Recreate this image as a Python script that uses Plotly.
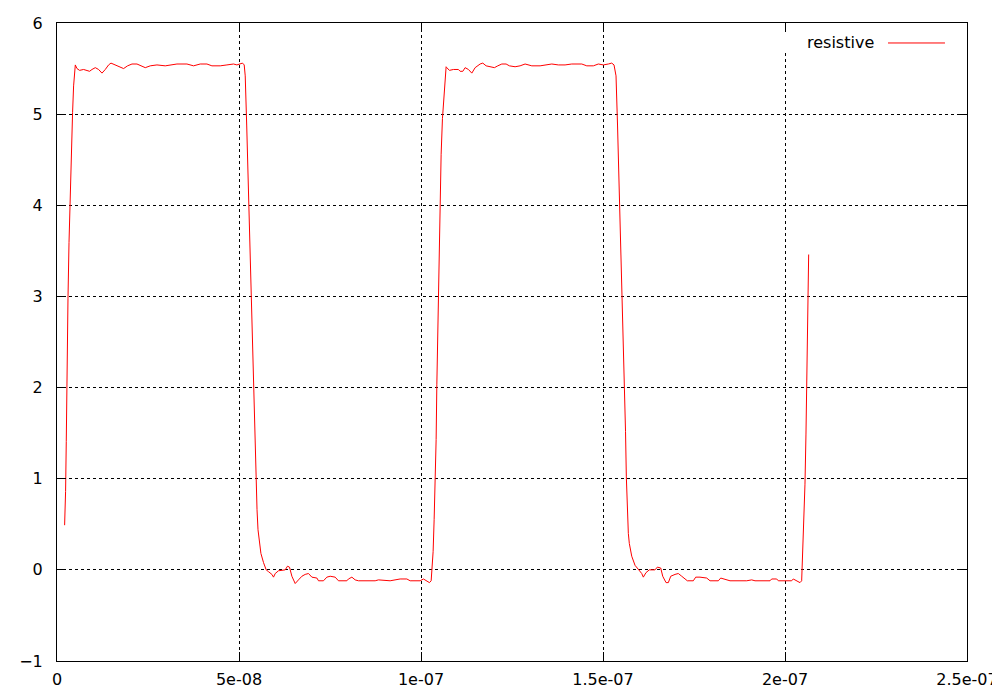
import plotly.graph_objects as go

# time in nanoseconds, voltage in volts
t_ns = [
    2.09, 2.36, 2.55, 2.75, 3.02, 3.30, 3.65, 3.93, 4.28, 4.56, 4.83,
    5.03, 5.49, 6.21, 7.30, 8.24, 8.95, 9.61, 10.52, 11.42, 12.36, 13.26, 14.17, 14.83,
    16.01, 17.38, 18.29, 19.39, 20.60, 21.97, 23.34, 24.25, 25.62, 27.46, 29.74, 31.58,
    32.95, 35.70, 37.51, 39.35, 41.19, 42.56, 44.84, 46.68, 48.50, 49.43, 50.34, 50.97, 51.43,
    51.71, 52.12, 52.39, 52.67, 52.94, 53.22, 53.44, 53.68, 54.04, 54.40, 54.67, 54.95,
    55.22, 55.63, 56.02, 56.73, 57.47, 58.11, 59.04, 59.48, 59.95, 60.85, 62.69, 63.32,
    63.87, 64.53, 65.44, 66.34, 67.28, 68.18, 69.09, 70.02, 71.40, 71.84, 73.21, 74.14,
    75.05, 76.42, 77.33, 79.63, 80.07, 81.01, 81.91, 82.82, 87.41, 88.31, 90.15, 91.52,
    94.27, 96.11, 97.02, 99.76, 100.67, 101.41, 102.32, 102.79,
    103.14, 103.33, 103.61, 103.88, 104.16, 104.35, 104.62, 104.90, 105.17, 105.53,
    105.89, 106.27, 106.63, 106.90,
    107.09, 107.81, 108.91, 110.28, 110.75, 111.49, 112.12, 113.03, 113.96, 114.87,
    116.24, 116.98, 117.89, 118.99, 120.17, 121.10, 122.20, 123.38, 124.29, 125.85,
    127.22, 128.60, 130.44, 132.72, 134.56, 135.93, 137.74, 139.58, 141.42, 144.17,
    145.54, 147.35, 148.72, 150.10, 151.47, 152.40, 153.03,
    153.58, 154.00, 154.27, 154.55, 154.82, 155.10, 155.32, 155.56, 155.92, 156.19,
    156.41, 156.68, 156.96, 157.23, 157.89, 158.80, 159.71, 160.64, 161.08, 161.82,
    162.73, 164.29, 164.93, 165.86, 166.41, 167.32, 167.95, 168.61, 169.79, 170.69,
    171.63, 173.17, 174.81, 175.47, 176.65, 178.50, 179.40, 181.68, 182.34, 183.52,
    184.89, 189.48, 190.85, 191.76, 195.88, 196.34, 197.72, 198.16, 201.83, 202.27,
    203.21, 204.11, 204.58,
    204.74, 205.02, 205.29, 205.49, 205.76, 205.95, 206.23, 206.50,
]
volts = [
    0.49, 0.86, 1.41, 2.29, 2.98, 3.59, 4.23, 4.69, 5.02, 5.31, 5.53,
    5.54, 5.50, 5.48, 5.49, 5.48, 5.47, 5.49, 5.51, 5.49, 5.45, 5.49, 5.54, 5.56,
    5.54, 5.52, 5.50, 5.53, 5.55, 5.55, 5.53, 5.51, 5.53, 5.54, 5.53, 5.54,
    5.55, 5.55, 5.53, 5.55, 5.55, 5.53, 5.53, 5.54, 5.55, 5.54, 5.55, 5.56, 5.54,
    5.42, 4.87, 4.46, 4.00, 3.71, 3.44, 3.10, 2.50, 1.90, 1.52, 1.02, 0.66,
    0.44, 0.29, 0.18, 0.08, 0.00, -0.02, -0.05, -0.08, -0.04, -0.01, 0.00, 0.04,
    0.03, -0.07, -0.15, -0.11, -0.07, -0.05, -0.04, -0.08, -0.09, -0.12, -0.12, -0.08,
    -0.07, -0.08, -0.12, -0.12, -0.10, -0.08, -0.11, -0.12, -0.12, -0.11, -0.12, -0.12,
    -0.10, -0.10, -0.12, -0.12, -0.10, -0.12, -0.14, -0.12,
    0.05, 0.20, 0.55, 0.93, 1.43, 2.03, 2.62, 3.44, 4.06, 4.56,
    4.95, 5.13, 5.38, 5.52,
    5.51, 5.48, 5.49, 5.49, 5.47, 5.47, 5.51, 5.49, 5.45, 5.51,
    5.55, 5.56, 5.53, 5.52, 5.51, 5.53, 5.55, 5.55, 5.53, 5.52,
    5.53, 5.55, 5.53, 5.53, 5.54, 5.55, 5.54, 5.54, 5.55, 5.55,
    5.53, 5.53, 5.55, 5.54, 5.55, 5.56, 5.54,
    5.42, 4.87, 4.46, 4.00, 3.71, 3.44, 3.10, 2.50, 1.90, 1.52,
    1.02, 0.60, 0.40, 0.29, 0.15, 0.05, 0.00, -0.04, -0.08, -0.03,
    0.00, 0.00, 0.03, 0.02, -0.07, -0.14, -0.14, -0.07, -0.05, -0.04,
    -0.07, -0.12, -0.12, -0.08, -0.08, -0.09, -0.12, -0.12, -0.09, -0.10,
    -0.12, -0.12, -0.11, -0.12, -0.12, -0.10, -0.10, -0.12, -0.12, -0.10,
    -0.12, -0.14, -0.12,
    0.07, 0.24, 0.54, 0.94, 1.49, 2.10, 3.00, 3.46,
]

x_tick_vals = [0, 5e-8, 1e-7, 1.5e-7, 2e-7, 2.5e-7]
x_tick_text = ["0", "5e-08", "1e-07", "1.5e-07", "2e-07", "2.5e-07"]
y_tick_vals = [-1, 0, 1, 2, 3, 4, 5, 6]
series_name = "resistive"

t_sec = [v * 1e-9 for v in t_ns]

FONT = "DejaVu Sans"

fig = go.Figure()
fig.add_trace(go.Scatter(
    x=t_sec, y=volts, mode="lines", name=series_name,
    line=dict(color="#ff0000", width=1),
    showlegend=False,
))

axis_common = dict(
    showline=True, linecolor="black", linewidth=1, mirror="allticks",
    ticks="inside", ticklen=9, tickcolor="black", tickwidth=1,
    showgrid=True, gridcolor="black", gridwidth=1, griddash="3px,3px",
    zeroline=False, automargin=False,
    tickfont=dict(family=FONT, size=16, color="black"),
)

fig.update_xaxes(range=[0, 2.5e-7], tickvals=x_tick_vals, ticktext=x_tick_text,
                 ticklabelstandoff=4, **axis_common)
fig.update_yaxes(range=[-1, 6], tickvals=y_tick_vals,
                 ticklabelstandoff=10, **axis_common)

# opaque key box (gnuplot style: label then line sample)
fig.add_shape(type="rect", xref="paper", yref="paper",
              x0=0.797, x1=0.992, y0=0.9545, y1=0.9843,
              fillcolor="white", line=dict(width=0), layer="above")
fig.add_annotation(xref="paper", yref="paper", x=0.900, y=0.9687,
                   xanchor="right", yanchor="middle", showarrow=False,
                   text=series_name, font=dict(family=FONT, size=16, color="black"))
fig.add_shape(type="line", xref="paper", yref="paper",
              x0=0.9132, x1=0.9758, y0=0.9687, y1=0.9687,
              line=dict(color="#ff0000", width=1), layer="above")

# the page body adds an 8px offset, so margins are shifted to compensate
fig.update_layout(
    width=1000, height=700,
    margin=dict(l=49, r=41, t=15, b=47, autoexpand=False),
    paper_bgcolor="white", plot_bgcolor="white",
    font=dict(family=FONT, size=16, color="black"),
)

fig.write_html("out.html")
